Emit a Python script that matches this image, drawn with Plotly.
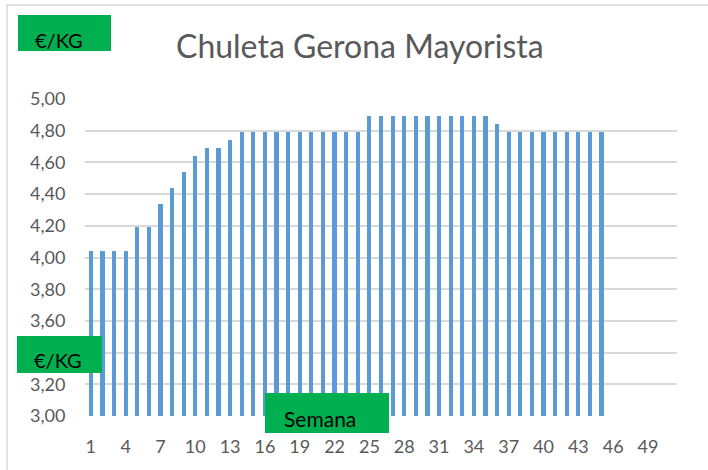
import plotly.graph_objects as go

weeks = list(range(1, 46))
prices = [4.04, 4.04, 4.04, 4.04, 4.19, 4.19, 4.34, 4.44, 4.54, 4.64,
          4.69, 4.69, 4.74, 4.79, 4.79, 4.79, 4.79, 4.79, 4.79, 4.79,
          4.79, 4.79, 4.79, 4.79, 4.89, 4.89, 4.89, 4.89, 4.89, 4.89,
          4.89, 4.89, 4.89, 4.89, 4.89, 4.84, 4.79, 4.79, 4.79, 4.79,
          4.79, 4.79, 4.79, 4.79, 4.79]
x_ticks = list(range(1, 50, 3))
y_ticks = [3.0, 3.2, 3.4, 3.6, 3.8, 4.0, 4.2, 4.4, 4.6, 4.8, 5.0]
# 3,40 is hidden behind the green "€/KG" box in the original
y_ticktext = ["3,00", "3,20", "", "3,60", "3,80", "4,00", "4,20", "4,40", "4,60", "4,80", "5,00"]
title_text = "Chuleta Gerona Mayorista"
unit_label = "€/KG"
x_label = "Semana"

W, H = 708, 470
L, R, T, B = 85, 31, 99, 54
PW, PH = W - L - R, H - T - B

def px(x):
    return (x - L) / PW

def py(y):
    return 1 - (y - T) / PH

FONT = "Lato, 'Open Sans', sans-serif"
GREEN = "#00B050"

fig = go.Figure(go.Bar(x=weeks, y=prices, width=0.36,
                       marker=dict(color="#5B9BD5", line=dict(width=0))))

shapes = [
    dict(type="rect", xref="paper", yref="paper", x0=px(7), x1=px(720), y0=py(5), y1=py(480),
         line=dict(color="#D9D9D9", width=1.5), fillcolor="rgba(0,0,0,0)", layer="below"),
    dict(type="rect", xref="paper", yref="paper", x0=px(18), x1=px(111), y0=py(51), y1=py(15),
         line=dict(width=0), fillcolor=GREEN, layer="above"),
    dict(type="rect", xref="paper", yref="paper", x0=px(17), x1=px(102), y0=py(373), y1=py(336),
         line=dict(width=0), fillcolor=GREEN, layer="above"),
    dict(type="rect", xref="paper", yref="paper", x0=px(265), x1=px(389), y0=py(433), y1=py(393),
         line=dict(width=0), fillcolor=GREEN, layer="above"),
]

annotations = [
    dict(text=title_text, x=px(360), y=py(46), xref="paper", yref="paper", showarrow=False,
         font=dict(family=FONT, size=32, color="#595959"), xanchor="center", yanchor="middle"),
    dict(text=unit_label, x=px(59), y=py(40), xref="paper", yref="paper", showarrow=False,
         font=dict(family=FONT, size=20, color="#000000"), xanchor="center", yanchor="middle"),
    dict(text=unit_label, x=px(58), y=py(360), xref="paper", yref="paper", showarrow=False,
         font=dict(family=FONT, size=20, color="#000000"), xanchor="center", yanchor="middle"),
    dict(text=x_label, x=px(320), y=py(418), xref="paper", yref="paper", showarrow=False,
         font=dict(family=FONT, size=21, color="#000000"), xanchor="center", yanchor="middle"),
]

fig.update_layout(
    width=W, height=H,
    margin=dict(l=L, r=R, t=T, b=B, autoexpand=False),
    paper_bgcolor="white", plot_bgcolor="white",
    separators=",.",
    showlegend=False,
    shapes=shapes,
    annotations=annotations,
    xaxis=dict(range=[0.5, 51.5], tickvals=x_ticks, ticktext=[str(t) for t in x_ticks],
               showgrid=False, zeroline=False, showline=False,
               ticks="outside", ticklen=14, tickcolor="rgba(0,0,0,0)",
               tickfont=dict(family=FONT, size=18, color="#595959")),
    yaxis=dict(range=[3, 5], tickvals=y_ticks, ticktext=y_ticktext,
               showgrid=True, gridcolor="#D9D9D9", gridwidth=1.5, zeroline=False, showline=False,
               ticks="outside", ticklen=15, tickcolor="rgba(0,0,0,0)",
               tickfont=dict(family=FONT, size=18, color="#595959")),
    bargap=0,
)

fig.write_html("out.html", config={"displayModeBar": False},
               post_script="document.body.style.margin='0';document.body.style.overflow='hidden';")
